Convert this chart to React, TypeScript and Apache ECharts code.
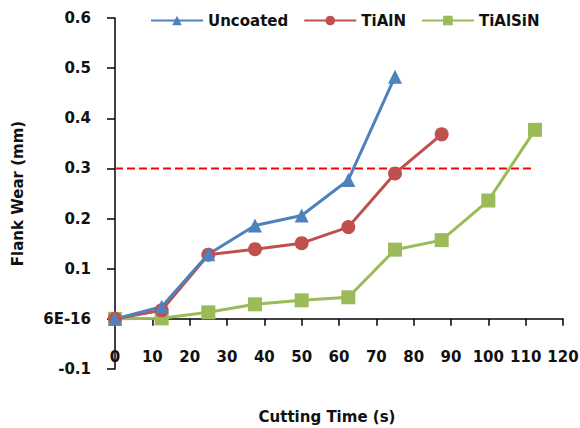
import React, { useEffect, useRef } from "react";
import * as echarts from "echarts";

const cuttingTime = [0, 12.5, 25, 37.5, 50, 62.5, 75, 87.5, 100, 112.5];
const uncoated = [0, 0.024, 0.129, 0.186, 0.206, 0.277, 0.483];
const tialn = [0, 0.017, 0.128, 0.139, 0.151, 0.183, 0.29, 0.368];
const tialsin = [0, 0.001, 0.013, 0.029, 0.037, 0.043, 0.138, 0.157, 0.236, 0.377];
const limitX = [0, 112.5];
const limitY = 0.3;
const seriesNames = ["Uncoated", "TiAlN", "TiAlSiN"];

const FONT = "'DejaVu Sans', sans-serif";

function pairs(ys: number[]) {
  return ys.map((y, i) => [cuttingTime[i], y]);
}

export default function App() {
  const ref = useRef<HTMLDivElement>(null);
  useEffect(() => {
    if (!ref.current) return;
    const chart = echarts.init(ref.current, null, { renderer: "svg" });
    const lineSeries = (name: string, ys: number[], color: string, symbol: string, size: number) => ({
      name,
      type: "line",
      data: pairs(ys),
      symbol,
      symbolSize: size,
      itemStyle: { color },
      lineStyle: { color, width: 3 },
      z: 3,
    });
    const txt = { fontSize: 15, fontWeight: "bold", color: "#111", fontFamily: FONT };
    chart.setOption({
      animation: false,
      backgroundColor: "#ffffff",
      textStyle: { fontFamily: FONT },
      legend: {
        data: seriesNames,
        top: 13,
        left: 150,
        padding: 0,
        itemWidth: 52,
        itemHeight: 12,
        itemGap: 15,
        textStyle: txt,
      },
      grid: { left: 115, right: 17, top: 18, bottom: 59, containLabel: false, outerBoundsMode: "none" },
      xAxis: {
        type: "value",
        min: 0,
        max: 120,
        interval: 10,
        name: "Cutting Time (s)",
        nameLocation: "middle",
        nameGap: 40,
        nameTextStyle: { ...txt, padding: [0, 24, 0, 0] },
        axisLine: { onZero: true, lineStyle: { color: "#000", width: 1.5 } },
        axisTick: { show: true, length: 7, lineStyle: { color: "#000", width: 1.5 } },
        axisLabel: { margin: -20, ...txt },
        splitLine: { show: false },
      },
      yAxis: {
        type: "value",
        min: -0.1,
        max: 0.6,
        interval: 0.1,
        name: "Flank Wear (mm)",
        nameLocation: "middle",
        nameGap: 90,
        nameRotate: 90,
        nameTextStyle: txt,
        axisLine: { show: true, lineStyle: { color: "#000", width: 1.5 } },
        axisTick: { show: true, length: 8, lineStyle: { color: "#000", width: 1.5 } },
        axisLabel: {
          margin: 24,
          ...txt,
          formatter: (v: number) => (Math.abs(v) < 1e-9 ? "6E-16" : v.toFixed(1)),
        },
        splitLine: { show: false },
      },
      series: [
        {
          name: "limit",
          type: "line",
          data: limitX.map((x) => [x, limitY]),
          symbol: "none",
          lineStyle: { color: "#ff0000", width: 2, type: [8, 4] },
          z: 2,
          silent: true,
        },
        lineSeries(seriesNames[2], tialsin, "#9bbb59", "rect", 14),
        lineSeries(seriesNames[1], tialn, "#c0504d", "circle", 14),
        lineSeries(seriesNames[0], uncoated, "#4f81bd", "triangle", 14),
      ],
    });
    return () => chart.dispose();
  }, []);
  return <div ref={ref} style={{ width: 580, height: 428, position: "absolute", left: 0, top: 0 }} />;
}
